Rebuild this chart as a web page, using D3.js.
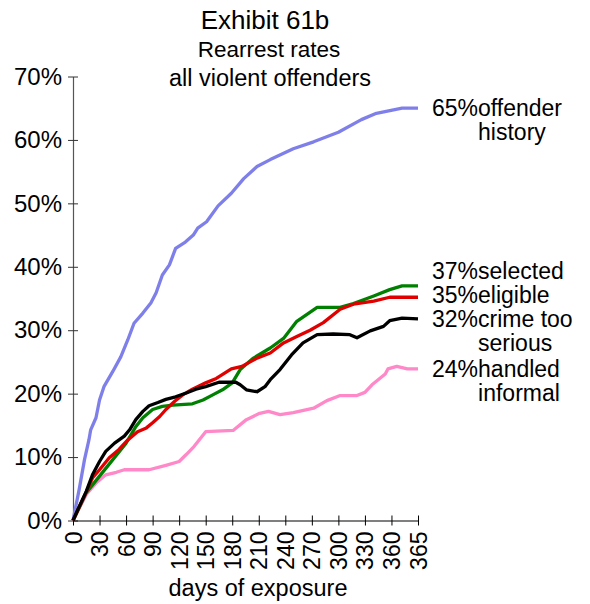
<!DOCTYPE html>
<html>
<head>
<meta charset="utf-8">
<script src="https://cdn.jsdelivr.net/npm/d3@7"></script>
<style>
  body { margin: 0; background: #fff; }
  svg { font-family: "Liberation Sans", Arial, sans-serif; }
</style>
</head>
<body>
<svg width="590" height="604"></svg>
<script>
// tick labels on the day axis (category style, evenly spaced)
const dayTicks = [0, 30, 60, 90, 120, 150, 180, 210, 240, 270, 300, 330, 360, 365];
const pctTicks = [0, 10, 20, 30, 40, 50, 60, 70];

// series: [day, percent rearrested]
const offenderHistory = [[0,0],[7,4.9],[13,9.6],[18,12.7],[20,14.3],[26,16.2],[30,19.0],[35,21.1],[45,23.5],[54,25.8],[62,28.5],[69,31.1],[79,32.7],[88,34.3],[94,35.9],[101,38.7],[109,40.3],[116,42.9],[127,43.9],[136,45.0],[141,46.1],[151,47.1],[164,49.6],[179,51.6],[193,53.9],[208,55.8],[223,56.9],[249,58.6],[272,59.7],[300,61.2],[326,63.2],[343,64.2],[362,65.0],[365,65.0]];
const selected = [[0,0],[15,4.4],[30,7.0],[45,9.6],[60,12.2],[71,14.8],[79,16.2],[90,17.5],[101,18.0],[113,18.2],[135,18.4],[147,19.0],[158,19.8],[169,20.6],[180,21.7],[189,23.8],[204,25.6],[223,27.2],[238,28.7],[253,31.4],[276,33.6],[302,33.6],[317,34.2],[340,35.4],[358,36.4],[362,37.0],[365,37.0]];
const eligible = [[0,0],[15,4.5],[22,6.7],[30,8.0],[41,9.9],[52,11.2],[62,12.7],[73,14.0],[83,14.6],[90,15.4],[98,16.4],[105,17.5],[115,18.8],[124,19.8],[135,20.7],[150,21.7],[162,22.4],[179,23.9],[191,24.3],[208,25.6],[223,26.4],[238,28.0],[253,29.0],[268,30.0],[283,31.2],[302,33.3],[317,34.1],[340,34.6],[358,35.2],[365,35.2]];
const crimeTooSerious = [[0,0],[7,2.2],[15,4.6],[22,7.2],[30,9.3],[37,10.9],[47,12.2],[58,13.3],[64,14.3],[71,15.9],[79,17.2],[86,18.1],[96,18.6],[105,19.1],[116,19.5],[128,20.1],[139,20.7],[150,21.1],[165,21.8],[184,21.8],[189,21.4],[196,20.6],[208,20.3],[217,21.1],[223,22.2],[234,23.8],[247,26.1],[260,28.0],[276,29.3],[294,29.4],[313,29.3],[321,28.8],[336,29.9],[351,30.6],[358,31.5],[362,31.9],[365,31.8]];
const handledInformal = [[0,0],[15,4.1],[26,5.9],[37,7.2],[49,7.6],[58,8.0],[86,8.0],[105,8.7],[120,9.3],[128,10.4],[137,11.7],[150,14.0],[181,14.2],[196,15.9],[211,16.9],[221,17.2],[234,16.7],[249,17.0],[272,17.7],[287,18.9],[302,19.7],[321,19.7],[330,20.2],[338,21.4],[353,23.1],[356,23.9],[361,24.3],[363,23.9],[365,23.9]];

const series = [
  { values: offenderHistory, pct: "65%", name: ["offender", "history"], color: "#7f7fea" },
  { values: handledInformal, pct: "24%", name: ["handled", "informal"], color: "#ff88c8" },
  { values: selected, pct: "37%", name: ["selected"], color: "#008000" },
  { values: eligible, pct: "35%", name: ["eligible"], color: "#e00000" },
  { values: crimeTooSerious, pct: "32%", name: ["crime too", "serious"], color: "#000000" }
];

const svg = d3.select("svg");
const plotLeft = 73, plotRight = 418, plotTop = 76.5, plotBottom = 520.5;

// category-like axis: each labelled tick gets the same width, 360->365 included
const x = d3.scaleLinear()
  .domain(dayTicks)
  .range(dayTicks.map((d, i) => plotLeft + i * (plotRight - plotLeft) / (dayTicks.length - 1)));
const y = d3.scaleLinear().domain([0, 70]).range([plotBottom, plotTop]);

// title
const title = svg.append("g").attr("text-anchor", "middle").attr("fill", "#000");
title.append("text").attr("x", 265).attr("y", 29).attr("font-size", 26).text("Exhibit 61b");
title.append("text").attr("x", 269).attr("y", 57).attr("font-size", 22.5).text("Rearrest rates");
title.append("text").attr("x", 270).attr("y", 86).attr("font-size", 23.5).text("all violent offenders");

// y axis
const yAxis = svg.append("g")
  .attr("transform", `translate(${plotLeft},0)`)
  .call(d3.axisLeft(y).tickValues(pctTicks).tickSize(0).tickPadding(11).tickFormat(d => d + "%"));
yAxis.select(".domain").attr("stroke", "#555").attr("stroke-width", 1.2);
yAxis.selectAll(".tick line").attr("x1", -5).attr("x2", 5).attr("stroke", "#333");
yAxis.selectAll(".tick text").attr("font-size", 24).attr("fill", "#000")
  .attr("font-family", "Liberation Sans, Arial, sans-serif");

// x axis
const xAxis = svg.append("g")
  .attr("transform", `translate(0,${plotBottom})`)
  .call(d3.axisBottom(x).tickValues(dayTicks).tickSize(0).tickFormat(d => d));
xAxis.select(".domain").attr("stroke", "#000").attr("stroke-width", 1.2);
xAxis.selectAll(".tick line").attr("y1", -5).attr("y2", 5).attr("stroke", "#000");
xAxis.selectAll(".tick text")
  .attr("font-size", 23).attr("fill", "#000")
  .attr("font-family", "Liberation Sans, Arial, sans-serif")
  .attr("transform", "rotate(-90)")
  .attr("text-anchor", "end")
  .attr("x", -11).attr("y", 0).attr("dy", "0.35em");

svg.append("text")
  .attr("x", 258).attr("y", 596)
  .attr("text-anchor", "middle").attr("font-size", 23.5)
  .text("days of exposure");

// lines
const line = d3.line().x(d => x(d[0])).y(d => y(d[1]));
svg.append("g").selectAll("path")
  .data(series)
  .join("path")
  .attr("d", d => line(d.values))
  .attr("fill", "none")
  .attr("stroke", d => d.color)
  .attr("stroke-width", 3.3)
  .attr("stroke-linejoin", "round");

// end labels, pushed apart from the bottom up so they don't overlap
const lineH = 24;
const labels = series.map(s => ({ ...s, cy: y(s.values[s.values.length - 1][1]) }))
  .sort((a, b) => b.cy - a.cy);
for (let i = 1; i < labels.length; i++) {
  const below = labels[i - 1];
  labels[i].cy = Math.min(labels[i].cy, below.cy - labels[i].name.length * lineH);
}

const lab = svg.append("g").attr("font-size", 23).attr("fill", "#000");
labels.forEach(l => {
  const t = lab.append("text").attr("x", 432).attr("y", l.cy).attr("dy", "0.35em");
  const p = t.append("tspan").text(l.pct);
  t.append("tspan").text(l.name[0]);
  const w = p.node().getComputedTextLength();
  l.name.slice(1).forEach((n, k) => {
    lab.append("text").attr("x", 432 + w).attr("y", l.cy + (k + 1) * lineH).attr("dy", "0.35em").text(n);
  });
});
</script>
</body>
</html>
